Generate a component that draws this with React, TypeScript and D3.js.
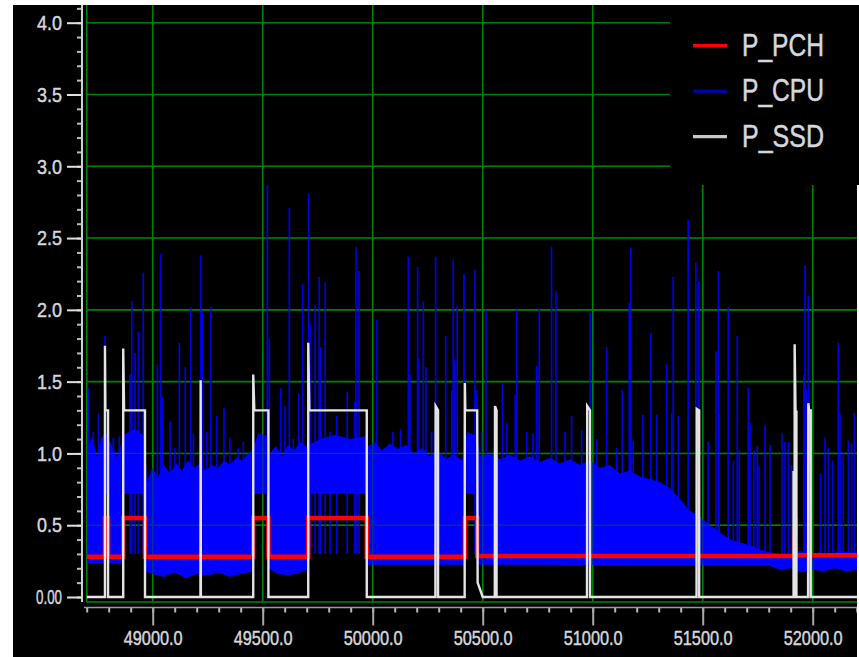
import React, { useEffect, useRef } from 'react';
import * as d3 from 'd3';

// axis ticks
const yMajorTicks = [0, 0.5, 1, 1.5, 2, 2.5, 3, 3.5, 4];
const yTickLabels = ['0.00', '0.5', '1.0', '1.5', '2.0', '2.5', '3.0', '3.5', '4.0'];
const xMajorTicks = [49000, 49500, 50000, 50500, 51000, 51500, 52000];
const xTickLabels = ['49000.0', '49500.0', '50000.0', '50500.0', '51000.0', '51500.0', '52000.0'];

const seriesNames = ['P_PCH', 'P_CPU', 'P_SSD'];
const legendColors = ['#ff0000', '#0000b4', '#c8c8c8'];

// P_PCH: step levels [time, value]
const pchPoints: [number, number][] = [
  [48700, 0.28], [48783, 0.28], [48783, 0.55], [48797, 0.55], [48797, 0.28],
  [48866, 0.28], [48866, 0.55], [48965, 0.55], [48965, 0.28],
  [49457, 0.28], [49457, 0.55], [49526, 0.55], [49526, 0.28],
  [49707, 0.28], [49707, 0.55], [49973, 0.55], [49973, 0.28],
  [50419, 0.28], [50419, 0.55], [50475, 0.55], [50475, 0.285],
  [51918, 0.285], [51918, 0.42], [51921, 0.55], [51922, 0.29], [52210, 0.29],
];

// P_SSD: pulses [time, value]
const ssdPoints: [number, number][] = [
  [48700, 0], [48783, 0], [48783, 1.75], [48785, 1.3], [48797, 1.3], [48797, 0],
  [48866, 0], [48866, 1.73], [48870, 1.3], [48965, 1.3], [48965, 0],
  [49217, 0], [49218, 1.51], [49219, 0],
  [49457, 0], [49457, 1.55], [49462, 1.3], [49526, 1.3], [49526, 0],
  [49707, 0], [49707, 1.77], [49712, 1.3], [49973, 1.3], [49973, 0],
  [50285, 0], [50286, 1.33], [50297, 1.3], [50297, 0],
  [50418, 0], [50419, 1.49], [50421, 1.3], [50475, 1.3], [50477, 0.1], [50500, 0],
  [50555, 0], [50556, 1.33], [50563, 1.3], [50563, 0],
  [50974, 0], [50975, 1.33], [50988, 1.3], [50988, 0],
  [51472, 0], [51473, 1.31], [51484, 1.3], [51484, 0],
  [51913, 0], [51913, 0.87], [51916, 0.87], [51916, 0], [51918, 0], [51918, 1.76], [51922, 1.29], [51926, 1.29], [51926, 0],
  [51979, 0], [51980, 1.35], [51984, 1.3], [51991, 1.3], [51991, 0], [52210, 0],
];

// P_CPU dense band: upper and lower envelope [time, value]
const cpuTop: [number, number][] = [
  [48701, 1.02], [48724, 1.12], [48747, 0.98], [48765, 1.10], [48783, 1.15], [48797, 1.12],
  [48815, 1.05], [48838, 0.98], [48860, 1.08], [48870, 1.13], [48920, 1.17], [48965, 1.12],
  [48974, 0.80], [48997, 0.90], [49024, 0.84], [49051, 0.92], [49079, 0.86], [49106, 0.93],
  [49133, 0.88], [49160, 0.95], [49188, 0.90], [49215, 0.93], [49242, 0.88], [49270, 0.92],
  [49297, 0.90], [49324, 0.95], [49352, 0.92], [49379, 0.97], [49406, 0.95], [49433, 1.00],
  [49456, 1.03], [49479, 1.14], [49524, 1.12], [49533, 1.00], [49560, 1.05], [49588, 0.98],
  [49615, 1.06], [49642, 1.02], [49670, 1.08], [49697, 1.05], [49761, 1.10], [49829, 1.13],
  [49897, 1.10], [49970, 1.12], [49979, 1.05], [50010, 1.08], [50042, 1.02], [50078, 1.07],
  [50115, 1.03], [50151, 1.06], [50188, 1.00], [50224, 1.04], [50260, 0.98], [50297, 1.02],
  [50333, 0.96], [50369, 0.99], [50406, 0.95], [50429, 1.15], [50474, 1.12], [50488, 0.98],
  [50533, 1.00], [50579, 0.96], [50624, 0.99], [50670, 0.95], [50715, 0.98], [50760, 0.94],
  [50806, 0.97], [50851, 0.93], [50897, 0.96], [50942, 0.92], [50988, 0.95], [51033, 0.90],
  [51078, 0.92], [51124, 0.86], [51169, 0.88], [51215, 0.84], [51260, 0.82], [51306, 0.80],
  [51351, 0.76], [51397, 0.68], [51442, 0.60], [51487, 0.56], [51533, 0.50], [51578, 0.45],
  [51624, 0.40], [51669, 0.38], [51715, 0.36], [51760, 0.33], [51806, 0.31], [51851, 0.30],
  [51897, 0.29], [51942, 0.32], [51988, 0.30], [52033, 0.31], [52078, 0.30], [52124, 0.32],
  [52169, 0.31], [52210, 0.32],
];

const cpuBottom: [number, number][] = [
  [48700, 0.235], [48783, 0.235], [48783, 0.72], [48797, 0.72], [48797, 0.235],
  [48866, 0.235], [48866, 0.72], [48965, 0.72], [48965, 0.18], [49000, 0.16],
  [49050, 0.14], [49100, 0.17], [49150, 0.13], [49200, 0.16], [49250, 0.15],
  [49300, 0.17], [49350, 0.14], [49400, 0.16], [49457, 0.18], [49457, 0.72],
  [49526, 0.72], [49526, 0.2], [49570, 0.16], [49620, 0.15], [49670, 0.17],
  [49707, 0.19], [49707, 0.72], [49973, 0.72], [49973, 0.225], [50419, 0.225],
  [50419, 0.72], [50475, 0.72], [50475, 0.225], [51800, 0.22], [51850, 0.19],
  [51900, 0.2], [51950, 0.17], [52000, 0.19], [52050, 0.18], [52100, 0.2],
  [52150, 0.18], [52210, 0.19],
];

// P_CPU short spikes [time, peak]
const cpuSpikes: [number, number][] = [
  [48707, 1.455], [48730, 1.15], [48753, 1.28], [48783, 1.82], [48821, 1.11], [48848, 1.12],
  [48897, 1.55], [48905, 2.06], [48920, 1.70], [48935, 1.85], [48957, 2.26], [49021, 1.62],
  [49036, 2.39], [49045, 1.39], [49079, 1.22], [49101, 1.04], [49121, 1.77], [49148, 1.60],
  [49173, 2.02], [49185, 1.14], [49218, 2.38], [49225, 1.99], [49245, 1.15], [49264, 2.02],
  [49291, 1.26], [49324, 1.32], [49351, 1.11], [49389, 1.04], [49412, 1.08], [49521, 2.87],
  [49530, 1.80], [49582, 1.455], [49601, 1.33], [49621, 2.71], [49639, 1.10], [49664, 1.42],
  [49682, 2.18], [49709, 2.81], [49715, 1.91], [49738, 2.03], [49757, 2.23], [49764, 1.74],
  [49784, 2.19], [49806, 1.15], [49836, 1.26], [49884, 1.43], [49919, 1.36], [49924, 2.44],
  [49938, 2.27], [49995, 1.05], [50018, 1.93], [50092, 1.15], [50127, 1.17], [50162, 2.37],
  [50169, 1.55], [50204, 2.30], [50210, 1.66], [50230, 2.06], [50242, 1.60], [50268, 1.15],
  [50286, 2.37], [50332, 1.82], [50359, 1.44], [50366, 2.35], [50373, 1.65], [50384, 2.03],
  [50415, 2.25], [50465, 2.28], [50473, 1.44], [50495, 1.15], [50515, 2.00], [50589, 1.49],
  [50609, 1.21], [50648, 1.41], [50655, 2.00], [50700, 1.15], [50728, 1.14], [50745, 1.61],
  [50757, 2.01], [50813, 2.44], [50833, 2.13], [50874, 1.15], [50904, 1.26], [50950, 1.16],
  [50988, 1.98], [51018, 1.10], [51063, 1.74], [51109, 1.04], [51134, 1.44], [51166, 2.05],
  [51173, 2.43], [51184, 1.09], [51228, 1.27], [51264, 1.84], [51291, 1.27], [51336, 1.62],
  [51359, 1.28], [51366, 2.23], [51389, 1.26], [51434, 2.63], [51469, 2.33], [51483, 2.20],
  [51525, 1.08], [51560, 1.71], [51571, 2.27], [51575, 1.28], [51616, 2.02], [51639, 0.95],
  [51657, 1.82], [51666, 1.02], [51707, 1.46], [51715, 1.21], [51733, 1.02], [51748, 1.05],
  [51756, 0.91], [51783, 1.20], [51806, 1.06], [51860, 1.14], [51874, 1.08], [51889, 1.08],
  [51904, 0.92], [51960, 1.55], [51962, 1.50], [51965, 2.31], [51970, 1.45], [51980, 2.10],
  [52036, 0.86], [52056, 1.11], [52071, 1.04], [52091, 0.95], [52116, 1.77], [52124, 1.28],
  [52139, 1.01], [52162, 1.09], [52177, 1.07], [52189, 1.28],
];

const W = 859;
const H = 657;
const FONT = '"Liberation Sans", Arial, sans-serif';
const TEXT_COLOR = '#d4d8de';

export default function App() {
  const svgRef = useRef<SVGSVGElement>(null);

  useEffect(() => {
    if (!svgRef.current) return;
    const svg = d3.select(svgRef.current);
    svg.selectAll('*').remove();

    const plotLeft = 86.7;
    const plotRight = 857;
    const plotTop = 5;
    const plotBottom = 602;

    const x = d3.scaleLinear().domain([48700, 52200]).range([86.7, 856.7]);
    const y = d3.scaleLinear().domain([0, 4]).range([597, 22.7]);

    // backgrounds
    svg.append('rect').attr('width', W).attr('height', H).attr('fill', '#ffffff');
    svg.append('rect').attr('x', 13).attr('y', 5).attr('width', plotRight - 13).attr('height', H - 5).attr('fill', '#000000');

    svg.append('defs').append('clipPath').attr('id', 'plotClip')
      .append('rect')
      .attr('x', plotLeft).attr('y', plotTop)
      .attr('width', plotRight - plotLeft).attr('height', plotBottom - plotTop + 2);

    const drawGrid = (g: d3.Selection<SVGGElement, unknown, null, undefined>) => {
      g.selectAll('line.v')
        .data(xMajorTicks)
        .join('line')
        .attr('class', 'v')
        .attr('x1', d => x(d)).attr('x2', d => x(d))
        .attr('y1', plotTop).attr('y2', plotBottom);
      g.selectAll('line.h')
        .data(yMajorTicks.filter(d => d > 0))
        .join('line')
        .attr('class', 'h')
        .attr('x1', plotLeft).attr('x2', plotRight)
        .attr('y1', d => y(d)).attr('y2', d => y(d));
      g.append('line').attr('x1', plotLeft).attr('x2', plotLeft).attr('y1', plotTop).attr('y2', plotBottom);
      g.append('line').attr('x1', plotLeft).attr('x2', plotRight).attr('y1', plotBottom).attr('y2', plotBottom);
    };

    const grid = svg.append('g').attr('stroke', '#008000').attr('stroke-width', 1.6);
    drawGrid(grid);

    const plot = svg.append('g').attr('clip-path', 'url(#plotClip)');

    // CPU spikes
    plot.append('g')
      .attr('stroke', '#0000e0')
      .attr('stroke-width', 1.7)
      .selectAll('line')
      .data(cpuSpikes)
      .join('line')
      .attr('x1', d => x(d[0])).attr('x2', d => x(d[0]))
      .attr('y1', y(0.3)).attr('y2', d => y(d[1]));

    // CPU band
    const line = d3.line<[number, number]>().x(d => x(d[0])).y(d => y(d[1]));
    const bandPts = cpuTop.concat(cpuBottom.slice().reverse());
    plot.append('path')
      .attr('d', line(bandPts) + 'Z')
      .attr('fill', '#0000ff');

    // grid shows faintly through the band
    const grid2 = plot.append('g').attr('stroke', '#008000').attr('stroke-width', 1.2).attr('opacity', 0.45);
    drawGrid(grid2);

    // P_PCH
    plot.append('path')
      .attr('d', line(pchPoints))
      .attr('fill', 'none')
      .attr('stroke', '#ff0000')
      .attr('stroke-width', 4.5);

    // P_SSD
    plot.append('path')
      .attr('d', line(ssdPoints))
      .attr('fill', 'none')
      .attr('stroke', '#e4e4e4')
      .attr('stroke-width', 2.4);

    // y axis
    const yAxisX = 82;
    const yMinor = svg.append('g')
      .attr('transform', `translate(${yAxisX},0)`)
      .call(d3.axisLeft(y).tickValues(d3.range(0, 4.15, 0.1)).tickSize(5).tickFormat(() => ''));
    yMinor.select('.domain').remove();
    yMinor.selectAll('line').attr('stroke', '#bcbcbc').attr('stroke-width', 2);

    const yMajor = svg.append('g')
      .attr('transform', `translate(${yAxisX},0)`)
      .call(d3.axisLeft(y).tickValues(yMajorTicks).tickSize(15).tickPadding(5)
        .tickFormat((_d, i) => yTickLabels[i]));
    yMajor.select('.domain').remove();
    yMajor.selectAll('line').attr('stroke', '#e0e0e0').attr('stroke-width', 2);
    yMajor.selectAll('text')
      .attr('fill', TEXT_COLOR)
      .attr('stroke', TEXT_COLOR)
      .attr('stroke-width', 0.45)
      .attr('font-family', FONT)
      .attr('font-size', 21)
      .attr('textLength', (_d, i) => (i === 0 ? 26 : 25))
      .attr('lengthAdjust', 'spacingAndGlyphs');

    svg.append('line')
      .attr('x1', yAxisX).attr('x2', yAxisX)
      .attr('y1', plotTop).attr('y2', plotBottom)
      .attr('stroke', '#d0d0d0').attr('stroke-width', 2);

    // x axis
    const xAxisY = 607.5;
    const xMinor = svg.append('g')
      .attr('transform', `translate(0,${xAxisY})`)
      .call(d3.axisBottom(x).tickValues(d3.range(48700, 52201, 100)).tickSize(5).tickFormat(() => ''));
    xMinor.select('.domain').remove();
    xMinor.selectAll('line').attr('stroke', '#b8b8b8').attr('stroke-width', 2);

    const xMajor = svg.append('g')
      .attr('transform', `translate(0,${xAxisY})`)
      .call(d3.axisBottom(x).tickValues(xMajorTicks).tickSize(18).tickPadding(5)
        .tickFormat((_d, i) => xTickLabels[i]));
    xMajor.select('.domain').remove();
    xMajor.selectAll('line').attr('stroke', '#a8a8a8').attr('stroke-width', 2);
    xMajor.selectAll('text')
      .attr('fill', TEXT_COLOR)
      .attr('stroke', TEXT_COLOR)
      .attr('stroke-width', 0.45)
      .attr('font-family', FONT)
      .attr('font-size', 21)
      .attr('textLength', 59)
      .attr('lengthAdjust', 'spacingAndGlyphs');

    svg.append('line')
      .attr('x1', 84).attr('x2', W)
      .attr('y1', xAxisY).attr('y2', xAxisY)
      .attr('stroke', '#9c9c9c').attr('stroke-width', 1.6);

    // legend
    svg.append('rect').attr('x', 670).attr('y', 5).attr('width', W - 670).attr('height', 180).attr('fill', '#000000');
    const legend = svg.append('g');
    const item = legend.selectAll('g')
      .data(seriesNames)
      .join('g')
      .attr('transform', (_d, i) => `translate(0,${45.7 + i * 45.5})`);
    item.append('line')
      .attr('x1', 693).attr('x2', 727)
      .attr('stroke', (_d, i) => legendColors[i])
      .attr('stroke-width', 3.3);
    item.append('text')
      .attr('x', 742)
      .attr('y', 10)
      .attr('fill', TEXT_COLOR)
      .attr('stroke', TEXT_COLOR)
      .attr('stroke-width', 0.5)
      .attr('font-family', FONT)
      .attr('font-size', 32)
      .attr('textLength', 82)
      .attr('lengthAdjust', 'spacingAndGlyphs')
      .text(d => d);

    // white edge at the right
    svg.append('rect').attr('x', plotRight).attr('y', 185).attr('width', W - plotRight).attr('height', H - 185).attr('fill', '#ffffff');
  }, []);

  return (
    <svg
      ref={svgRef}
      width={W}
      height={H}
      style={{ position: 'absolute', left: 0, top: 0, display: 'block' }}
    />
  );
}
